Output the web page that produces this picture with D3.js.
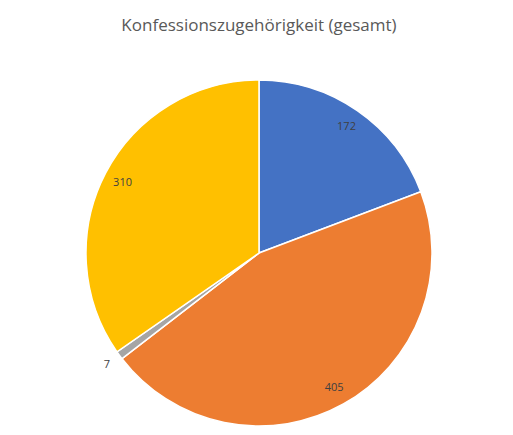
<!DOCTYPE html>
<html>
<head>
<meta charset="utf-8">
<script src="https://cdn.jsdelivr.net/npm/d3@7"></script>
<style>
  body { margin: 0; background: #fff; }
  text { font-family: "Open Sans", "Liberation Sans", sans-serif; }
</style>
</head>
<body>
<div id="chart"></div>
<script>
// chart data
const categories = ["A", "B", "C", "D"];
const values = [172, 405, 7, 310];
const labels = ["172", "405", "7", "310"];
const colors = ["#4472C4", "#ED7D31", "#A5A5A5", "#FFC000"];
const title = "Konfessionszugehörigkeit (gesamt)";

const width = 513, height = 435;
const cx = 259, cy = 253, radius = 173;

const svg = d3.select("#chart")
    .append("svg")
    .attr("width", width)
    .attr("height", height);

svg.append("text")
    .attr("x", cx)
    .attr("y", 31)
    .attr("text-anchor", "middle")
    .style("font-size", "17px")
    .style("fill", "#595959")
    .text(title);

const pie = d3.pie().sort(null).value(d => d);
const arcs = pie(values);

const arc = d3.arc().innerRadius(0).outerRadius(radius);
const labelArc = d3.arc().innerRadius(radius * 0.89).outerRadius(radius * 0.89);
const outerArc = d3.arc().innerRadius(radius * 1.09).outerRadius(radius * 1.09);

const g = svg.append("g")
    .attr("transform", `translate(${cx},${cy})`);

g.selectAll("path")
    .data(arcs)
    .enter().append("path")
    .attr("d", arc)
    .style("fill", (d, i) => colors[i])
    .style("stroke", "#fff")
    .style("stroke-width", 1.5);

g.selectAll(".lbl")
    .data(arcs)
    .enter().append("text")
    .attr("class", "lbl")
    .attr("transform", d => {
        // small slices get the label outside
        const p = (d.endAngle - d.startAngle) < 0.1 ? outerArc.centroid(d) : labelArc.centroid(d);
        return `translate(${p[0]},${p[1]})`;
    })
    .attr("text-anchor", "middle")
    .attr("dy", "0.35em")
    .style("font-size", "11px")
    .style("fill", "#404040")
    .text((d, i) => labels[i]);
</script>
</body>
</html>
